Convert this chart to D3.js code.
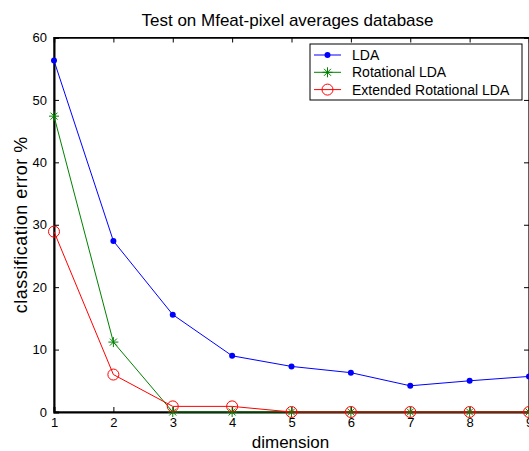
<!DOCTYPE html>
<html>
<head>
<meta charset="utf-8">
<script src="https://cdn.jsdelivr.net/npm/d3@7"></script>
<style>
  body { margin: 0; background: #fff; }
  text { font-family: "Liberation Sans", Arial, sans-serif; fill: #000; }
</style>
</head>
<body>
<div id="chart"></div>
<script>
"use strict";

// data
const dims = [1, 2, 3, 4, 5, 6, 7, 8, 9];
const lda = [56.3, 27.4, 15.6, 9.0, 7.3, 6.3, 4.2, 5.0, 5.7];
const rotLda = [47.4, 11.2, 0, 0, 0, 0, 0, 0, 0];
const extRotLda = [28.9, 6.0, 0.9, 0.9, 0, 0, 0, 0, 0];
const yTicks = [0, 10, 20, 30, 40, 50, 60];
const seriesNames = ["LDA", "Rotational LDA", "Extended Rotational LDA"];

var width = 529, height = 451;
var margin = {left: 54, right: 0, top: 37.5, bottom: 39};

const svg = d3.select("#chart").append("svg")
  .attr("width", width)
  .attr("height", height);

const x = d3.scaleLinear().domain([1, 9]).range([margin.left, width - margin.right]);
const y = d3.scaleLinear().domain([0, 60]).range([height - margin.bottom, margin.top]);

// box
svg.append("rect")
  .attr("x", x(1)).attr("y", y(60))
  .attr("width", x(9) - x(1)).attr("height", y(0) - y(60))
  .attr("fill", "none").attr("stroke", "#000").attr("stroke-width", 1);

// axes, ticks inward like matlab
const xAxis = svg.append("g")
  .attr("transform", `translate(0,${y(0)})`)
  .call(d3.axisBottom(x).tickValues(dims).tickSize(-5).tickPadding(6).tickFormat(d3.format("d")));
const xTop = svg.append("g")
  .attr("transform", `translate(0,${y(60)})`)
  .call(d3.axisTop(x).tickValues(dims).tickSize(-5).tickFormat(""));
const yAxis = svg.append("g")
  .attr("transform", `translate(${x(1)},0)`)
  .call(d3.axisLeft(y).tickValues(yTicks).tickSize(-5).tickPadding(7));
const yRight = svg.append("g")
  .attr("transform", `translate(${x(9)},0)`)
  .call(d3.axisRight(y).tickValues(yTicks).tickSize(-5).tickFormat(""));

[xAxis, xTop, yAxis, yRight].forEach(g => {
  g.select(".domain").attr("stroke", "#000").attr("stroke-width", 1.5);
  g.selectAll(".tick line").attr("stroke", "#000");
  g.selectAll("text").style("font-size", "13px").attr("fill", "#000");
});
xAxis.select(".domain").attr("stroke-width", 2);
yAxis.select(".domain").attr("stroke-width", 2);

const line = d3.line().x((d, i) => x(dims[i])).y(d => y(d));

function drawSeries(vals, color, marker) {
  svg.append("path")
    .datum(vals)
    .attr("d", line)
    .attr("fill", "none")
    .attr("stroke", color)
    .attr("stroke-width", 1);
  vals.forEach((v, i) => marker(svg, x(dims[i]), y(v), color));
}

function dot(g, cx, cy, c) {
  g.append("circle").attr("cx", cx).attr("cy", cy).attr("r", 3).attr("fill", c);
}
function star(g, cx, cy, c) {
  const s = 5;
  const p = `M${cx - s},${cy}H${cx + s}M${cx},${cy - s}V${cy + s}` +
    `M${cx - s * 0.7},${cy - s * 0.7}L${cx + s * 0.7},${cy + s * 0.7}` +
    `M${cx - s * 0.7},${cy + s * 0.7}L${cx + s * 0.7},${cy - s * 0.7}`;
  g.append("path").attr("d", p).attr("stroke", c).attr("stroke-width", 1).attr("fill", "none");
}
function ring(g, cx, cy, c) {
  g.append("circle").attr("cx", cx).attr("cy", cy).attr("r", 5.5)
    .attr("fill", "none").attr("stroke", c).attr("stroke-width", 1);
}

const colors = ["#0000ff", "#008000", "#ff0000"];
const markers = [dot, star, ring];
drawSeries(lda, colors[0], dot);
drawSeries(rotLda, colors[1], star);
drawSeries(extRotLda, colors[2], ring);

// legend
const leg = svg.append("g");
leg.append("rect")
  .attr("x", 310).attr("y", 44).attr("width", 212).attr("height", 56)
  .attr("fill", "#fff").attr("stroke", "#000").attr("stroke-width", 1);
seriesNames.forEach((name, i) => {
  const ly = 55 + i * 17.3;
  leg.append("line").attr("x1", 314).attr("x2", 341).attr("y1", ly).attr("y2", ly)
    .attr("stroke", colors[i]).attr("stroke-width", 1);
  markers[i](leg, 327.5, ly, colors[i]);
  leg.append("text").attr("x", 352).attr("y", ly + 5)
    .style("font-size", "14px").text(name);
});

// title and labels
svg.append("text")
  .attr("x", (x(1) + x(9)) / 2 - 4).attr("y", 26)
  .attr("text-anchor", "middle").style("font-size", "17px")
  .text("Test on Mfeat-pixel averages database");

svg.append("text")
  .attr("x", (x(1) + x(9)) / 2 - 1).attr("y", 448)
  .attr("text-anchor", "middle").style("font-size", "17px")
  .text("dimension");

svg.append("text")
  .attr("transform", `translate(27,${(y(0) + y(60)) / 2}) rotate(-90)`)
  .attr("text-anchor", "middle").style("font-size", "18px")
  .style("letter-spacing", "0.5px")
  .text("classification error %");
</script>
</body>
</html>
